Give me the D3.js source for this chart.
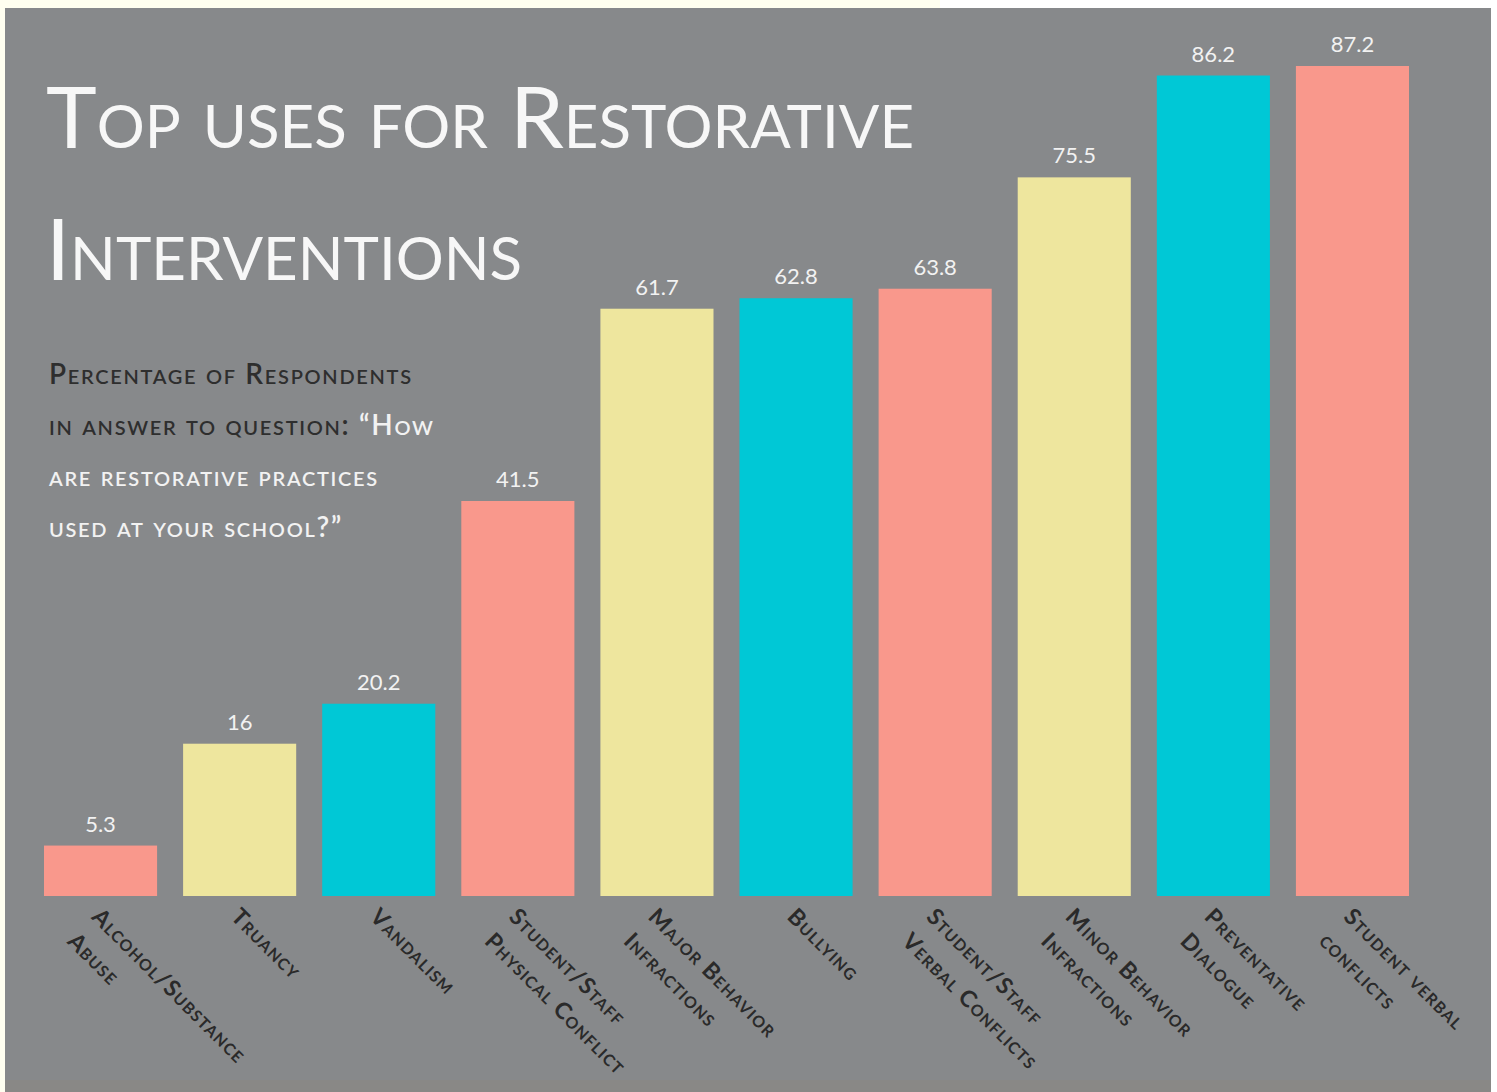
<!DOCTYPE html>
<html>
<head>
<meta charset="utf-8">
<script src="https://cdn.jsdelivr.net/npm/d3@7"></script>
<style>
  body { margin: 0; background: #fffff0; }
  svg { display: block; }
</style>
</head>
<body>
<script>
// chart data
const categories = [
    ["Alcohol/Substance", "Abuse"],
    ["Truancy"],
    ["Vandalism"],
    ["Student/Staff", "Physical Conflict"],
    ["Major Behavior", "Infractions"],
    ["Bullying"],
    ["Student/Staff", "Verbal Conflicts"],
    ["Minor Behavior", "Infractions"],
    ["Preventative", "Dialogue"],
    ["Student verbal", "conflicts"]
];
const values = [5.3, 16, 20.2, 41.5, 61.7, 62.8, 63.8, 75.5, 86.2, 87.2];
const valueLabels = ["5.3", "16", "20.2", "41.5", "61.7", "62.8", "63.8", "75.5", "86.2", "87.2"];
const barColors = ["#f9988c", "#eee69e", "#00c8d6"];

const titleLines = ["Top uses for Restorative", "Interventions"];

const W = 1497, H = 1092;
const bg = "#87898b";

const svg = d3.select("body").append("svg")
    .attr("width", W)
    .attr("height", H);

// page edges around the gray panel
svg.append("rect").attr("x", 0).attr("y", 0).attr("width", W).attr("height", H).attr("fill", "#fffff0");
svg.append("rect").attr("x", 940).attr("y", 0).attr("width", W - 940).attr("height", 8).attr("fill", "#ffffff");
svg.append("rect").attr("x", 1491).attr("y", 0).attr("width", W - 1491).attr("height", H).attr("fill", "#ffffff");
svg.append("rect").attr("x", 5).attr("y", 8).attr("width", 1486).attr("height", H - 8).attr("fill", bg);
svg.append("rect").attr("x", 5).attr("y", 1080).attr("width", 1486).attr("height", 12).attr("fill", "#898886");

const baseline = 896;

const x = d3.scaleBand()
    .domain(d3.range(values.length))
    .range([44, 1409])
    .paddingInner(0.187)
    .paddingOuter(0);

const y = d3.scaleLinear()
    .domain([0, 87.2])
    .range([baseline, 66]);

// bars
svg.selectAll(".bar")
    .data(values)
    .enter().append("rect")
    .attr("class", "bar")
    .attr("x", (d, i) => x(i))
    .attr("y", d => y(d))
    .attr("width", x.bandwidth())
    .attr("height", d => baseline - y(d))
    .attr("fill", (d, i) => barColors[i % 3]);

// value labels
svg.selectAll(".val")
    .data(values)
    .enter().append("text")
    .attr("class", "val")
    .attr("x", (d, i) => x(i) + x.bandwidth() / 2)
    .attr("y", d => y(d) - 14)
    .attr("text-anchor", "middle")
    .attr("font-family", "Lato")
    .attr("font-size", 22)
    .attr("fill", "#f2f2f2")
    .text((d, i) => valueLabels[i]);

// category labels, rotated 45 degrees
const cat = svg.selectAll(".cat")
    .data(categories)
    .enter().append("text")
    .attr("class", "cat")
    .attr("transform", (d, i) => "translate(" + (x(i) + x.bandwidth() / 2 - 10) + "," + 918 + ") rotate(45)")
    .attr("font-family", "Lato")
    .attr("font-weight", "bold")
    .attr("font-variant", "small-caps")
    .attr("font-size", 23)
    .attr("letter-spacing", 1.2)
    .attr("fill", "#2a2a2a");

cat.selectAll("tspan")
    .data(d => d)
    .enter().append("tspan")
    .attr("x", 0)
    .attr("dy", (d, j) => j === 0 ? 0 : "1.5em")
    .text(d => d);

// title
svg.selectAll(".title")
    .data(titleLines)
    .enter().append("text")
    .attr("class", "title")
    .attr("x", 46)
    .attr("y", (d, i) => 148 + i * 132)
    .attr("font-family", "Lato")
    .attr("font-variant", "small-caps")
    .attr("font-size", 86)
    .attr("fill", "#f7f7f7")
    .text(d => d);

// subtitle
const sub = svg.append("g")
    .attr("font-family", "Lato")
    .attr("font-variant", "small-caps")
    .attr("font-weight", 600)
    .attr("font-size", 28)
    .attr("letter-spacing", 1.7);

sub.append("text").attr("x", 49).attr("y", 384)
    .attr("fill", "#2e2e2e")
    .text("Percentage of Respondents");

const l2 = sub.append("text").attr("x", 49).attr("y", 435);
l2.append("tspan").attr("fill", "#2e2e2e").text("in answer to question: ");
l2.append("tspan").attr("fill", "#f2f2f2").text("\u201cHow");

sub.append("text").attr("x", 49).attr("y", 486)
    .attr("fill", "#f2f2f2")
    .text("are restorative practices");

sub.append("text").attr("x", 49).attr("y", 537)
    .attr("fill", "#f2f2f2")
    .text("used at your school?\u201d");
</script>
</body>
</html>
